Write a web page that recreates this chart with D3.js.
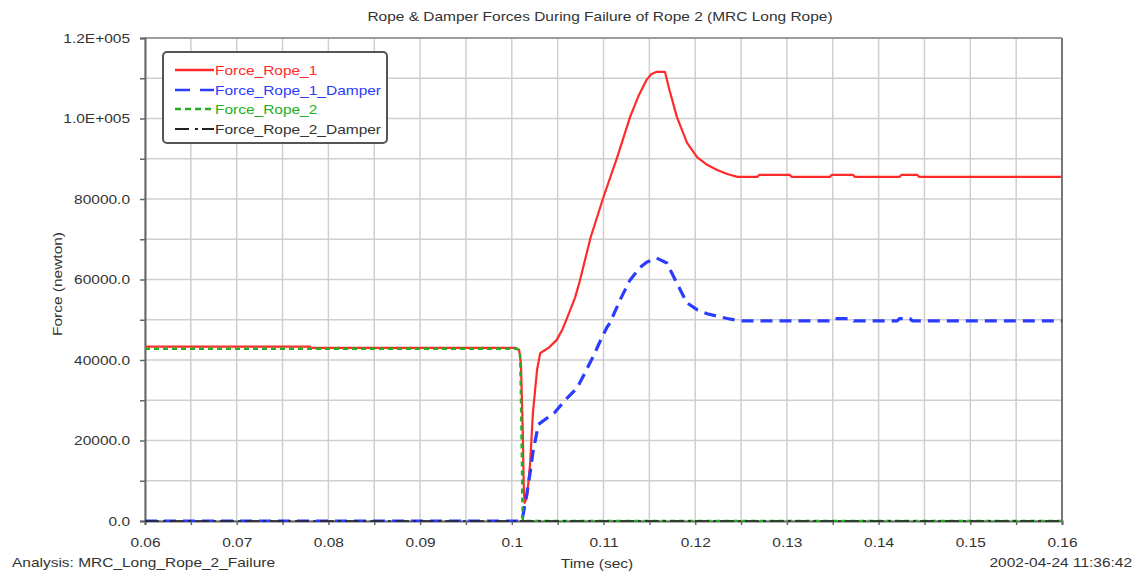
<!DOCTYPE html>
<html>
<head>
<meta charset="utf-8">
<script src="https://cdn.jsdelivr.net/npm/d3@7/dist/d3.min.js"></script>
<style>
  html, body { margin: 0; padding: 0; background: #fff; }
  svg { display: block; }
  text { font-family: "Liberation Sans", Arial, sans-serif; fill: #333; }
</style>
</head>
<body>
<svg id="chart" width="1139" height="576"></svg>
<script>
// ---------------- data ----------------
const chartTitle = "Rope & Damper Forces During Failure of Rope 2 (MRC Long Rope)";
const xTitle = "Time (sec)";
const yTitle = "Force (newton)";
const analysisText = "Analysis:  MRC_Long_Rope_2_Failure";
const stampText = "2002-04-24 11:36:42";

const seriesNames = ["Force_Rope_1", "Force_Rope_1_Damper", "Force_Rope_2", "Force_Rope_2_Damper"];

const xTickValues = [0.06, 0.07, 0.08, 0.09, 0.10, 0.11, 0.12, 0.13, 0.14, 0.15, 0.16];
const xTickLabels = ["0.06", "0.07", "0.08", "0.09", "0.1", "0.11", "0.12", "0.13", "0.14", "0.15", "0.16"];
const yTickValues = [0, 20000, 40000, 60000, 80000, 100000, 120000];
const yTickLabels = ["0.0", "20000.0", "40000.0", "60000.0", "80000.0", "1.0E+005", "1.2E+005"];

// Force_Rope_1
const rope1Time = [0.060, 0.0780, 0.0781, 0.1004, 0.1008, 0.1010, 0.1012, 0.1013, 0.1014, 0.10166, 0.1020,
  0.1023, 0.10275, 0.1031, 0.1035, 0.1040, 0.1049, 0.1055, 0.1060, 0.1069, 0.1074, 0.1086, 0.1100,
  0.1115, 0.1129, 0.1138, 0.1147, 0.1152, 0.1158, 0.1167, 0.1172, 0.1180, 0.1191, 0.1202, 0.1213,
  0.1224, 0.1235, 0.1246, 0.1268, 0.1270, 0.1303, 0.1305, 0.1347, 0.1349, 0.1372, 0.1374, 0.1423,
  0.1425, 0.1442, 0.1444, 0.160];
const rope1Force = [43300, 43300, 43000, 43000, 42500, 39000, 22000, 9000, 4500, 6000, 14400,
  26800, 37500, 41700, 42300, 43000, 45000, 47500, 50300, 55500, 59500, 70500, 80500,
  90400, 100400, 105500, 109600, 111000, 111600, 111600, 107000, 100400, 94000, 90400, 88500,
  87200, 86200, 85500, 85500, 86000, 86000, 85500, 85500, 86000, 86000, 85500, 85500,
  86000, 86000, 85500, 85500];

// Force_Rope_1_Damper
const damper1Time = [0.060, 0.1011, 0.10135, 0.10166, 0.1020, 0.1023, 0.1029, 0.1047, 0.1058, 0.1071,
  0.1078, 0.1089, 0.1098, 0.1104, 0.1107, 0.1118, 0.1129, 0.1140, 0.1147, 0.1158, 0.1169, 0.1180,
  0.1191, 0.1202, 0.1213, 0.1235, 0.1249, 0.1349, 0.1352, 0.1370, 0.1373, 0.1420, 0.1423, 0.1434,
  0.1437, 0.160];
const damper1Force = [0, 0, 3000, 7000, 12000, 17000, 24000, 27000, 30000, 33000,
  36000, 41000, 45500, 48200, 49200, 54900, 59900, 63000, 64300, 65300, 64100, 59100,
  54200, 52500, 51500, 50300, 49700, 49700, 50300, 50300, 49700, 49700, 50300, 50300,
  49700, 49700];

// Force_Rope_2
const rope2Time = [0.060, 0.1006, 0.1009, 0.1010, 0.1011, 0.10115, 0.1012, 0.160];
const rope2Force = [42800, 42800, 42000, 30000, 15000, 5000, 0, 0];

// Force_Rope_2_Damper
const damper2Time = [0.060, 0.160];
const damper2Force = [0, 0];

const seriesTimes = [rope1Time, damper1Time, rope2Time, damper2Time];
const seriesForces = [rope1Force, damper1Force, rope2Force, damper2Force];

// ---------------- styles ----------------
const colors = ["#ff2a2a", "#2a3cff", "#22b022", "#222222"];
const widths = [2.2, 3.2, 2.4, 1.4];
const dashes = [null, "12,7", "5,4", "14,4,3,4"];
const legendDashes = [null, "15,10", "6,4", "14,6,3,4"];
const STRETCH = 1.19;

function stretch(sel) {
  sel.each(function () {
    const w = this.getComputedTextLength();
    if (w > 0) {
      d3.select(this).attr("textLength", (w * STRETCH).toFixed(1))
        .attr("lengthAdjust", "spacingAndGlyphs");
    }
  });
}

// ---------------- layout ----------------
const svg = d3.select("#chart");
const L = 145, R = 1062, T = 38, B = 521;

const x = d3.scaleLinear().domain([0.06, 0.16]).range([L, R]);
const y = d3.scaleLinear().domain([0, 120000]).range([B, T]);

// grid
const gridX = d3.range(0, 21).map(i => 0.06 + i * 0.005);
const gridY = d3.range(0, 13).map(i => i * 10000);
const grid = svg.append("g").attr("stroke", "#cfcfcf").attr("stroke-width", 1.5);
grid.selectAll("line.gx").data(gridX).join("line")
  .attr("x1", d => x(d)).attr("x2", d => x(d)).attr("y1", T).attr("y2", B);
grid.selectAll("line.gy").data(gridY).join("line")
  .attr("x1", L).attr("x2", R).attr("y1", d => y(d)).attr("y2", d => y(d));

// border top & right
svg.append("line").attr("x1", L).attr("x2", R).attr("y1", T).attr("y2", T)
  .attr("stroke", "#888").attr("stroke-width", 1.5);
svg.append("line").attr("x1", R).attr("x2", R).attr("y1", T).attr("y2", B)
  .attr("stroke", "#777").attr("stroke-width", 2);

// axes
const yLabelMap = new Map(yTickValues.map((v, i) => [v, yTickLabels[i]]));
const yAxis = d3.axisLeft(y).tickValues(gridY).tickSize(5)
  .tickFormat(d => yLabelMap.has(d) ? yLabelMap.get(d) : "");
const gy = svg.append("g").attr("transform", `translate(${L},0)`).call(yAxis);
gy.select(".domain").attr("stroke", "#666").attr("stroke-width", 2);
gy.selectAll(".tick line").attr("stroke", "#666").attr("stroke-width", 1.5);
gy.selectAll(".tick text").attr("font-size", 13).attr("fill", "#333")
  .attr("font-family", "Liberation Sans, Arial, sans-serif").attr("x", -15).call(stretch);

const xLabelMap = new Map(xTickValues.map((v, i) => [v.toFixed(3), xTickLabels[i]]));
const xAxis = d3.axisBottom(x).tickValues(gridX).tickSize(4)
  .tickFormat(d => xLabelMap.get(d.toFixed(3)) || "");
const gx = svg.append("g").attr("transform", `translate(0,${B})`).call(xAxis);
gx.select(".domain").attr("stroke", "#666").attr("stroke-width", 2);
gx.selectAll(".tick line").attr("stroke", "#666").attr("stroke-width", 1.5);
gx.selectAll(".tick text").attr("font-size", 13).attr("fill", "#333")
  .attr("font-family", "Liberation Sans, Arial, sans-serif").attr("y", 17).call(stretch);

// clip
svg.append("clipPath").attr("id", "clip").append("rect")
  .attr("x", L).attr("y", T - 2).attr("width", R - L).attr("height", B - T + 3);

// series
const line = d3.line().x(d => x(d[0])).y(d => y(d[1]));
const plot = svg.append("g").attr("clip-path", "url(#clip)");
seriesNames.forEach((name, i) => {
  const pts = seriesTimes[i].map((t, j) => [t, seriesForces[i][j]]);
  plot.append("path").datum(pts)
    .attr("d", line)
    .attr("fill", "none")
    .attr("stroke", colors[i])
    .attr("stroke-width", widths[i])
    .attr("stroke-dasharray", dashes[i])
    .attr("stroke-linejoin", "round");
});

// legend
const lg = svg.append("g");
lg.append("rect").attr("x", 163).attr("y", 52).attr("width", 224).attr("height", 91)
  .attr("rx", 4).attr("fill", "#fff").attr("stroke", "#555").attr("stroke-width", 2);
const rowY = [70, 90, 109, 129];
seriesNames.forEach((name, i) => {
  lg.append("line").attr("x1", 175).attr("x2", 214).attr("y1", rowY[i]).attr("y2", rowY[i])
    .attr("stroke", colors[i]).attr("stroke-width", i === 3 ? 2 : 2.5)
    .attr("stroke-dasharray", legendDashes[i]);
  lg.append("text").attr("x", 215).attr("y", rowY[i] + 4.5)
    .attr("font-size", 13).style("fill", colors[i] === "#222222" ? "#333" : colors[i])
    .text(name).call(stretch);
});

// titles
svg.append("text").attr("x", 600).attr("y", 21).attr("text-anchor", "middle")
  .attr("font-size", 13).text(chartTitle).call(stretch);
svg.append("text").attr("x", 597).attr("y", 568).attr("text-anchor", "middle")
  .attr("font-size", 13).text(xTitle).call(stretch);
svg.append("text").attr("x", 12).attr("y", 567).attr("font-size", 13).text(analysisText).call(stretch);
svg.append("text").attr("x", 1132).attr("y", 567).attr("text-anchor", "end")
  .attr("font-size", 13).text(stampText).call(stretch);
svg.append("text").attr("transform", "translate(62,284) rotate(-90)")
  .attr("text-anchor", "middle").attr("font-size", 13).text(yTitle).call(stretch);
</script>
</body>
</html>
